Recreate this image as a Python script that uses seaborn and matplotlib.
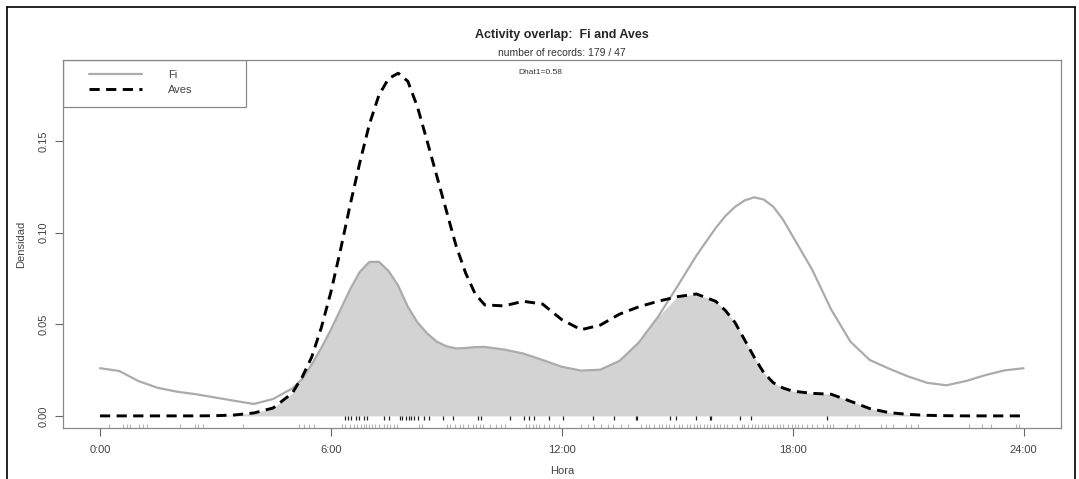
import numpy as np
import pandas as pd
import matplotlib
matplotlib.use("Agg")
import matplotlib.pyplot as plt
import seaborn as sns
from matplotlib.patches import Rectangle
from matplotlib.lines import Line2D

hours = [0, 0.5, 1, 1.5, 2, 2.5, 3, 3.5, 4, 4.5, 5, 5.25, 5.5, 5.75, 6, 6.25, 6.5,
         6.75, 7, 7.25, 7.5, 7.75, 8, 8.25, 8.5, 8.75, 9, 9.25, 9.5, 9.75, 10, 10.5,
         11, 11.5, 12, 12.5, 13, 13.5, 14, 14.5, 15, 15.5, 16, 16.25, 16.5, 16.75,
         17, 17.25, 17.5, 17.75, 18, 18.5, 19, 19.5, 20, 20.5, 21, 21.5, 22, 22.5,
         23, 23.5, 24]

dens_fi = [0.0260, 0.0245, 0.0190, 0.0153, 0.0132, 0.0118, 0.0100, 0.0082, 0.0065,
           0.0092, 0.0150, 0.0200, 0.0280, 0.0370, 0.0470, 0.0580, 0.0690, 0.0785,
           0.0840, 0.0840, 0.0790, 0.0710, 0.0595, 0.0510, 0.0450, 0.0405, 0.0380,
           0.0368, 0.0370, 0.0375, 0.0376, 0.0362, 0.0340, 0.0305, 0.0268, 0.0247,
           0.0252, 0.0300, 0.0400, 0.0540, 0.0705, 0.0875, 0.1025, 0.1090, 0.1140,
           0.1175, 0.1192, 0.1180, 0.1140, 0.1070, 0.0980, 0.0800, 0.0580, 0.0405,
           0.0305, 0.0258, 0.0215, 0.0180, 0.0167, 0.0190, 0.0222, 0.0248, 0.0260]

dens_aves = [0, 0, 0, 0, 0, 0, 0.0001, 0.0005, 0.0016, 0.0043, 0.0125, 0.0210,
             0.0320, 0.0480, 0.0675, 0.0905, 0.1150, 0.1380, 0.1590, 0.1750,
             0.1840, 0.1869, 0.1825, 0.1685, 0.1500, 0.1310, 0.1120, 0.0930,
             0.0780, 0.0665, 0.0605, 0.0600, 0.0625, 0.0610, 0.0525, 0.0470,
             0.0495, 0.0555, 0.0595, 0.0625, 0.0650, 0.0665, 0.0625, 0.0575,
             0.0510, 0.0415, 0.0320, 0.0235, 0.0180, 0.0152, 0.0135, 0.0123,
             0.0118, 0.0080, 0.0040, 0.0018, 0.0008, 0.0003, 0.0001, 0, 0, 0, 0]

# record times (rug ticks)
rug_fi = [0.24, 0.60, 0.71, 0.78, 1.02, 1.11, 1.21, 2.07, 2.46, 2.54, 2.67, 3.71,
          5.17, 5.30, 5.43, 5.56, 6.29, 6.38, 6.51, 6.59, 6.68, 6.77, 6.85, 6.91,
          6.98, 7.07, 7.15, 7.24, 7.37, 7.45, 7.54, 7.63, 7.71, 8.28, 8.36, 9.01,
          9.09, 9.22, 9.35, 9.44, 9.57, 9.70, 9.78, 9.87, 9.96, 10.13, 10.30, 10.43,
          10.52, 11.08, 11.16, 11.25, 11.33, 11.42, 11.55, 11.68, 11.81, 11.94,
          12.50, 12.67, 12.84, 13.02, 13.19, 13.32, 13.53, 13.71, 14.05, 14.18,
          14.27, 14.40, 14.53, 14.61, 14.70, 14.78, 14.91, 15.04, 15.13, 15.26,
          15.34, 15.43, 15.51, 15.60, 15.69, 15.77, 15.86, 15.95, 16.03, 16.12,
          16.21, 16.29, 16.42, 16.55, 16.68, 16.74, 16.85, 16.94, 17.02, 17.11,
          17.20, 17.28, 17.37, 17.50, 17.59, 17.67, 17.76, 17.89, 17.97, 18.06,
          18.15, 18.23, 18.36, 18.49, 18.62, 18.79, 18.88, 18.96, 19.05, 19.40,
          19.61, 19.72, 20.30, 20.43, 20.60, 20.95, 21.08, 21.25, 22.58, 22.93,
          23.14, 23.79, 23.88]
rug_aves = [6.38, 6.45, 6.53, 6.64, 6.72, 6.85, 6.94, 7.37, 7.50, 7.80, 7.86, 7.95,
            8.02, 8.09, 8.17, 8.27, 8.43, 8.56, 8.92, 9.18, 9.83, 9.90, 10.65, 11.03,
            11.16, 11.29, 11.68, 12.02, 12.80, 13.36, 13.92, 13.96, 14.81, 14.98,
            15.50, 15.84, 15.88, 16.62, 16.91, 18.90]

x_ticks = [0, 6, 12, 18, 24]
x_ticklabels = ["0:00", "6:00", "12:00", "18:00", "24:00"]
y_ticks = [0.00, 0.05, 0.10, 0.15]
y_ticklabels = ["0.00", "0.05", "0.10", "0.15"]

df = pd.DataFrame({"hora": hours, "Fi": dens_fi, "Aves": dens_aves})

sns.set_style("white")
plt.rcParams["font.family"] = ["Liberation Sans", "DejaVu Sans"]

fig = plt.figure(figsize=(10.79, 4.79), dpi=100)
ax = fig.add_axes([0.0584, 0.1065, 0.9245, 0.7682])

# overlap area
ax.fill_between(df["hora"], 0, np.minimum(df["Fi"], df["Aves"]),
                color="#d3d3d3", lw=0)
sns.lineplot(data=df, x="hora", y="Fi", ax=ax, color="#ababab", lw=1.6)
sns.lineplot(data=df, x="hora", y="Aves", ax=ax, color="black", lw=2.1,
             dashes=False, linestyle=(0, (3.5, 2.2)))
for ln in ax.get_lines():
    ln.set_solid_joinstyle("round")
    ln.set_dash_joinstyle("round")

ax.vlines(rug_aves, -0.0023, 0.0, color="#222222", lw=0.9)
ax.vlines(rug_fi, -0.0066, -0.0043, color="#b5b5b5", lw=0.8)

ax.set_xlim(-0.96, 24.96)
ax.set_ylim(-0.0066, 0.1941)
ax.set_xticks(x_ticks)
ax.set_xticklabels(x_ticklabels)
ax.set_yticks(y_ticks)
ax.set_yticklabels(y_ticklabels, rotation=90, va="center")
ax.tick_params(axis="both", direction="out", length=5.5, width=0.8,
               color="#666666", labelcolor="#444444", labelsize=8,
               bottom=True, left=True)
ax.tick_params(axis="x", pad=7)
ax.tick_params(axis="y", pad=5)
for s in ax.spines.values():
    s.set_color("#888888")
    s.set_linewidth(0.9)
ax.set_xlabel("Hora", fontsize=8, color="#444444", labelpad=8)
ax.set_ylabel("Densidad", fontsize=8, color="#444444", labelpad=9)

# legend box in the top-left corner
ax.add_patch(Rectangle((0, 0.872), 0.1835, 0.128, transform=ax.transAxes,
                       fill=False, edgecolor="#888888", lw=0.9, zorder=5))
handles = [Line2D([], [], color="#ababab", lw=1.6),
           Line2D([], [], color="black", lw=2.1, linestyle=(0, (3.5, 2.2)))]
ax.legend(handles, ["Fi", "Aves"], loc="upper left", bbox_to_anchor=(0.026, 0.972),
          frameon=False, borderpad=0, borderaxespad=0, handlelength=4.8,
          handletextpad=2.3, labelspacing=0.45, fontsize=8, labelcolor="#444444")

fig.text(0.521, 0.927, "Activity overlap:  Fi and Aves", ha="center", va="center",
         fontsize=9, fontweight="bold")
fig.text(0.521, 0.889, "number of records: 179 / 47", ha="center", va="center",
         fontsize=7.5, color="#333333")
fig.text(0.501, 0.849, "Dhat1=0.58", ha="center", va="center", fontsize=6,
         color="#333333")

# outer frame of the screenshot
fig.add_artist(Line2D([0.0065, 0.0065], [0, 0.9854], color="black", lw=1.2,
                      transform=fig.transFigure))
fig.add_artist(Line2D([0.0065, 0.9963], [0.9854, 0.9854], color="black", lw=1.2,
                      transform=fig.transFigure))
fig.add_artist(Line2D([0.9963, 0.9963], [0, 0.9854], color="black", lw=1.2,
                      transform=fig.transFigure))

fig.savefig("out.png", dpi=100)
